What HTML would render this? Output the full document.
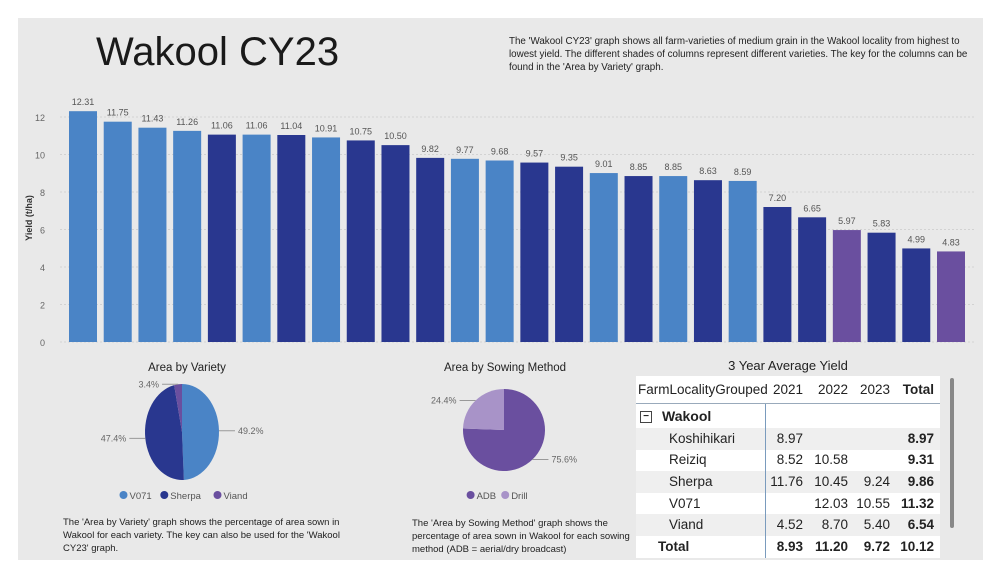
<!DOCTYPE html>
<html><head><meta charset="utf-8">
<style>
body{margin:0;width:1001px;height:579px;background:#fff;overflow:hidden;font-family:"Liberation Sans",sans-serif;position:relative}
.panel{position:absolute;left:18px;top:18px;width:965px;height:542px;background:#e9e9e9}
.abs{position:absolute}
.desc{font-size:9.5px;color:#222;line-height:13px}
</style></head><body>
<div class="panel"></div>
<div class="abs" style="left:96px;top:30px;font-size:40px;color:#1a1a1a">Wakool CY23</div>
<div class="abs desc" style="left:509px;top:35px;width:465px;font-size:9.8px">The 'Wakool CY23' graph shows all farm-varieties of medium grain in the Wakool locality from highest to lowest yield. The different shades of columns represent different varieties. The key for the columns can be found in the 'Area by Variety' graph.</div>
<svg class="abs" style="left:0;top:0" width="1001" height="579">
<g id="bars"></g>
<g id="pies"></g>
</svg>
<div class="abs" style="left:636px;top:358px;width:304px;text-align:center;font-size:13px;color:#222">3 Year Average Yield</div>
<div class="abs" style="left:636px;top:376px;width:304px;height:182px;background:#fff;font-size:13.5px;color:#222">
<div id="rows"></div>
<div class="abs" style="left:0;top:27px;width:304px;height:1px;background:#9ab;z-index:2"></div>
<div class="abs" style="left:129px;top:28px;width:1px;height:154px;background:#7a9bbd;z-index:2"></div>
</div>
<div class="abs" style="left:950px;top:378px;width:4px;height:150px;background:#888;border-radius:2px"></div>
<div class="abs desc" style="left:63px;top:516px;width:300px;font-size:9.5px">The 'Area by Variety' graph shows the percentage of area sown in Wakool for each variety. The key can also be used for the 'Wakool CY23' graph.</div>
<div class="abs desc" style="left:412px;top:517px;width:220px;font-size:9.5px">The 'Area by Sowing Method' graph shows the percentage of area sown in Wakool for each sowing method (ADB = aerial/dry broadcast)</div>
<script>
const yields=[12.31,11.75,11.43,11.26,11.06,11.06,11.04,10.91,10.75,10.50,9.82,9.77,9.68,9.57,9.35,9.01,8.85,8.85,8.63,8.59,7.20,6.65,5.97,5.83,4.99,4.83];
const varieties=["V","V","V","V","S","V","S","V","S","S","S","V","V","S","S","V","S","V","S","V","S","S","P","S","S","P"];
const yTicks=[0,2,4,6,8,10,12];
const varietyLabels=["V071","Sherpa","Viand"];
const varietyShares=[49.2,47.4,3.4];
const sowingLabels=["ADB","Drill"];
const sowingShares=[75.6,24.4];
const tableHeader=["FarmLocalityGrouped","2021","2022","2023","Total"];
const tableRows=[["Koshihikari","8.97","","","8.97"],["Reiziq","8.52","10.58","","9.31"],["Sherpa","11.76","10.45","9.24","9.86"],["V071","","12.03","10.55","11.32"],["Viand","4.52","8.70","5.40","6.54"]];
const tableTotal=["Total","8.93","11.20","9.72","10.12"];

const NS="http://www.w3.org/2000/svg";
const col={V:"#4a84c6",S:"#29378f",P:"#6a4f9f"};
const y=v=>342-v*18.75, x=i=>69+i*34.72;
const g=document.getElementById('bars');
function el(t,a,p){const e=document.createElementNS(NS,t);for(const k in a)e.setAttribute(k,a[k]);p.appendChild(e);return e;}
yTicks.forEach(t=>{
 const l=el('line',{x1:60,x2:975,y1:y(t),y2:y(t),stroke:'#d2d2d2','stroke-dasharray':'2,2'},g);
 
 
 const tx=el('text',{x:45,y:y(t)+4,'text-anchor':'end','font-size':9,fill:'#666'},g);tx.textContent=t;
 
 
});
const yt=el('text',{x:0,y:0,transform:'translate(32,218) rotate(-90)','text-anchor':'middle','font-size':9,'font-weight':'bold',fill:'#333'},g);yt.textContent='Yield (t/ha)';


yields.forEach((v,i)=>{
 const r=el('rect',{x:x(i),y:y(v),width:28,height:v*18.75,fill:col[varieties[i]]},g);
 
 
 const t=el('text',{x:x(i)+14,y:y(v)-6,'text-anchor':'middle','font-size':9,fill:'#555'},g);t.textContent=v.toFixed(2);
 
 
});
const pg=document.getElementById('pies');
function pie(cx,cy,rx,ry,shares,colors,labels,title,tx,legY){
 const ti=el('text',{x:tx,y:371,'text-anchor':'middle','font-size':11.5,fill:'#222'},pg);ti.textContent=title;
 
 
 let a=0;const tot=shares.reduce((s,v)=>s+v,0);
 shares.forEach((s,i)=>{
  const a0=a,a1=a+s/tot*2*Math.PI;a=a1;
  const p=t=>[cx+rx*Math.sin(t),cy-ry*Math.cos(t)];
  const [x0,y0]=p(a0),[x1,y1]=p(a1);
  const path=el('path',{d:`M${cx},${cy}L${x0},${y0}A${rx},${ry} 0 ${a1-a0>Math.PI?1:0} 1 ${x1},${y1}Z`,fill:colors[i]},pg);
  
  
  const m=(a0+a1)/2,[mx,my]=p(m),dir=Math.sin(m)>=0?1:-1;
  el('polyline',{points:`${mx},${my} ${mx+dir*10},${my} ${mx+dir*16},${my}`,stroke:'#999',fill:'none'},pg);
  const lt=el('text',{x:mx+dir*19,y:my+3,'text-anchor':dir>0?'start':'end','font-size':9,fill:'#666'},pg);lt.textContent=s.toFixed(1)+'%';
  
  
 });
 let lx=tx-labels.join('').length*3.3-labels.length*6;
 labels.forEach((l,i)=>{
  el('circle',{cx:lx+4,cy:legY-3,r:4,fill:colors[i]},pg);
  const t=el('text',{x:lx+10,y:legY+1,'font-size':9.5,fill:'#555'},pg);t.textContent=l;
  
  
  lx+=10+l.length*6.2+6;
 });
}
pie(182,432,37,48,varietyShares,["#4a84c6","#29378f","#6a4f9f"],varietyLabels,"Area by Variety",187,498);
pie(504,430,41,41,sowingShares,["#6a4f9f","#a893c8"],sowingLabels,"Area by Sowing Method",505,498);
const rows=document.getElementById('rows');
function row(cells,top,h,bg,bold,boldLast,indent){
 const d=document.createElement('div');d.className='abs';d.style.cssText=`left:0;top:${top}px;width:304px;height:${h}px;background:${bg};`;
 
 
 const R=[0,167,212,254,298];
 cells.forEach((c,i)=>{const s=document.createElement('span');s.className='abs';s.textContent=c;
  s.style.cssText=i==0?`left:${indent}px;top:${(h-16)/2}px;`:`right:${304-R[i]}px;top:${(h-16)/2}px;`;
  if(bold||(boldLast&&i==4))s.style.fontWeight='bold';d.appendChild(s);});
 rows.appendChild(d);
}
row(tableHeader,0,27,'#fff',false,true,2);
const w=document.createElement('div');w.className='abs';w.style.cssText='left:4px;top:32px;font-weight:bold;font-size:14px';
w.innerHTML='<span style="display:inline-block;width:10px;height:10px;border:1px solid #444;font-size:10px;line-height:9px;text-align:center;vertical-align:middle;margin-right:10px">−</span>Wakool';


rows.appendChild(w);
tableRows.forEach((r,i)=>row(r,52+i*21.6,21.6,i%2==0?'#efefef':'#fff',false,true,33));
row(tableTotal,160,22,'#fff',true,true,22);
</script>
</body></html>
